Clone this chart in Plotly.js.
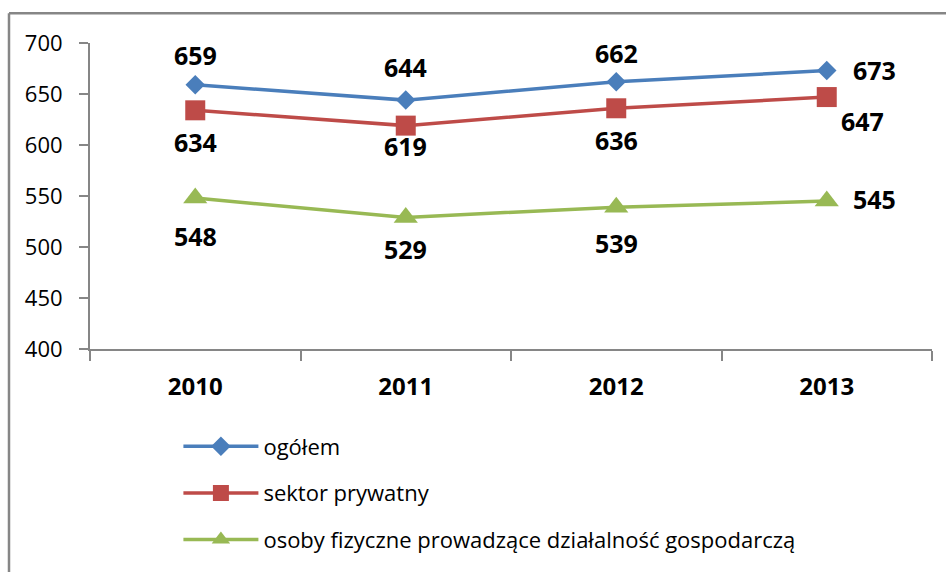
<!DOCTYPE html>
<html>
<head>
<meta charset="utf-8">
<script src="https://cdn.plot.ly/plotly-3.0.1.min.js"></script>
<style>
html,body{margin:0;padding:0;background:#fff;}
#chart{width:946px;height:572px;}
</style>
</head>
<body>
<div id="chart"></div>
<script>
// ---- data ----
const years = ["2010", "2011", "2012", "2013"];
const seriesNames = ["ogółem", "sektor prywatny", "osoby fizyczne prowadzące działalność gospodarczą"];
const ogolem = [659, 644, 662, 673];
const sektorPrywatny = [634, 619, 636, 647];
const osobyFizyczne = [548, 529, 539, 545];
const yTicks = [400, 450, 500, 550, 600, 650, 700];

// ---- style ----
const FONT = "Open Sans, Noto Sans, sans-serif";
const styles = [
  {color: "#4A7EBB", symbol: "diamond", size: 15, lw: 3.5,
   labelShift: [[0, 30], [0, 33], [0, 29], [48, 1]]},
  {color: "#BE4B48", symbol: "square", size: 20, lw: 3.5,
   labelShift: [[0, -32], [0, -20], [0, -32], [36, -24]]},
  {color: "#98B954", symbol: "triangle-up", size: 21, lw: 3.5,
   labelShift: [[0, -38], [0, -32], [0, -36], [48, 2]]}
];
const allSeries = [ogolem, sektorPrywatny, osobyFizyczne];

const traces = allSeries.map((vals, s) => ({
  type: "scatter",
  mode: "lines+markers",
  x: years,
  y: vals,
  name: seriesNames[s],
  legendgroup: "g" + s,
  line: {color: styles[s].color, width: styles[s].lw},
  marker: {color: styles[s].color, symbol: styles[s].symbol, size: styles[s].size},
  hoverinfo: "x+y"
}));

// data labels: x given as the category index on the category axis
const annotations = [];
allSeries.forEach((vals, s) => {
  vals.forEach((v, i) => {
    annotations.push({
      x: i, y: v, xref: "x", yref: "y",
      text: String(v), showarrow: false,
      xshift: styles[s].labelShift[i][0],
      yshift: styles[s].labelShift[i][1],
      font: {family: FONT, size: 25, color: "#000", weight: "bold"}
    });
  });
});

const frame = {type: "line", xref: "paper", yref: "paper",
  line: {color: "#868686", width: 2.5}};
const shapes = [
  Object.assign({}, frame, {x0: -0.0962, x1: -0.0962, y0: -1, y1: 1.097}),
  Object.assign({}, frame, {x0: -0.0962, x1: 1.2, y0: 1.097, y1: 1.097})
];

const layout = {
  width: 946, height: 572,
  margin: {l: 90, r: 14, t: 43, b: 219},
  paper_bgcolor: "#fff", plot_bgcolor: "#fff",
  font: {family: FONT, color: "#000"},
  showlegend: true,
  legend: {
    orientation: "v", x: 0.105, xanchor: "left", y: -0.25, yanchor: "top",
    font: {family: FONT, size: 22, color: "#000"},
    itemwidth: 75,
    tracegroupgap: 15, bgcolor: "rgba(0,0,0,0)"
  },
  xaxis: {
    type: "category", categoryorder: "array", categoryarray: years,
    range: [-0.5, years.length - 0.5], autorange: false,
    showgrid: false, zeroline: false,
    showline: true, linecolor: "#868686", linewidth: 2,
    ticks: "outside", tickson: "boundaries", ticklen: 10, tickcolor: "#868686", tickwidth: 2,
    tickfont: {family: FONT, size: 24, color: "#000", weight: "bold"},
    tickangle: 0,
    ticklabelstandoff: 15
  },
  yaxis: {
    range: [400, 700], autorange: false, tickvals: yTicks, ticktext: yTicks.map(String),
    showgrid: false, zeroline: false,
    showline: true, linecolor: "#868686", linewidth: 2,
    ticks: "outside", ticklen: 9, tickcolor: "#868686", tickwidth: 2,
    tickfont: {family: FONT, size: 22, color: "#000"},
    ticklabelstandoff: 12
  },
  annotations: annotations,
  shapes: shapes
};

Plotly.newPlot("chart", traces, layout, {displayModeBar: false, staticPlot: true});
</script>
</body>
</html>
